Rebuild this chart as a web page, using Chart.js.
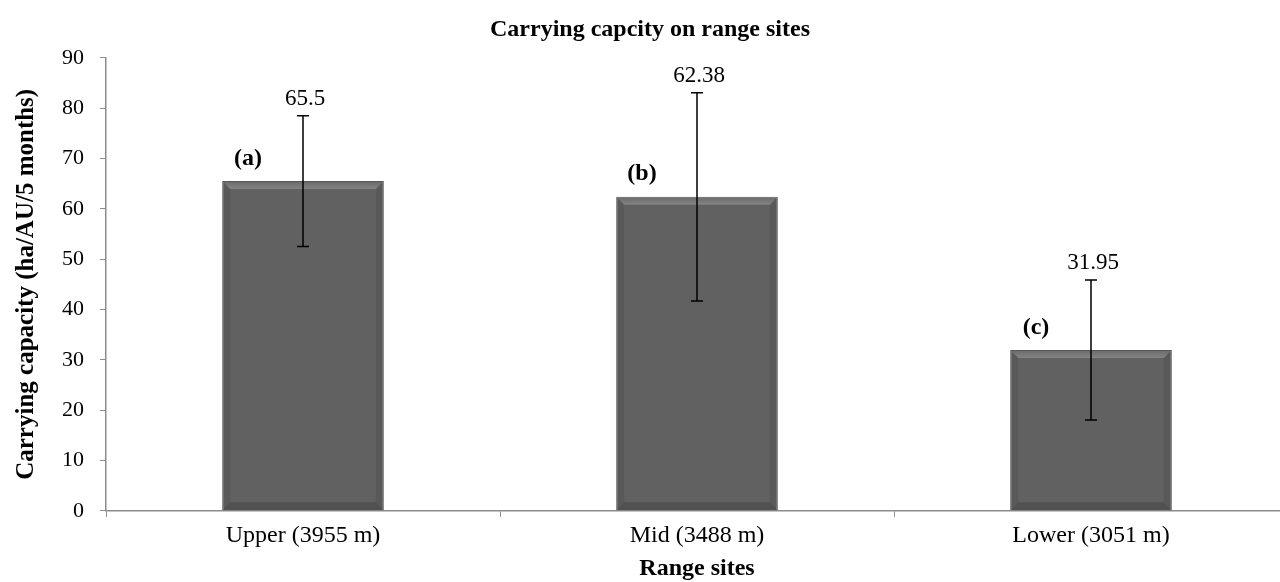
<!DOCTYPE html>
<html lang="en">
<head>
    <meta charset="utf-8">
    <script src="https://cdn.jsdelivr.net/npm/chart.js@4.4.0/dist/chart.umd.min.js"></script>
    <title>Carrying capacity on range sites</title>
    <style>
        html, body { margin: 0; padding: 0; background: #fff; overflow: hidden; }
        /* the original plot runs a little past the right edge of the picture */
        #wrap { width: 1292px; height: 582px; }
    </style>
</head>
<body>
    <div id="wrap"><canvas id="chart"></canvas></div>
    <script type="text/javascript">
        // data
        var sites = ['Upper (3955 m)', 'Mid (3488 m)', 'Lower (3051 m)'];
        var capacity = [65.5, 62.38, 31.95];
        var errors = [13, 20.7, 13.9];
        var letters = ['(a)', '(b)', '(c)'];

        var serif = '"Liberation Serif", "Times New Roman", serif';

        // error bars, value labels and letters drawn on top of the bars
        var extras = {
            id: 'extras',
            afterDatasetsDraw: function (chart) {
                var ctx = chart.ctx;
                var y = chart.scales.y;
                var meta = chart.getDatasetMeta(0);
                ctx.save();
                meta.data.forEach(function (bar, i) {
                    var x = bar.x;
                    var w = bar.width;
                    var top = bar.y;
                    var base = bar.base;
                    // bevel look
                    var left = x - w / 2, right = x + w / 2, b = 8;
                    var g = ctx.createLinearGradient(0, top, 0, top + b);
                    g.addColorStop(0, 'rgba(255,255,255,0.05)');
                    g.addColorStop(1, 'rgba(255,255,255,0.22)');
                    ctx.fillStyle = g;
                    ctx.beginPath();
                    ctx.moveTo(left, top); ctx.lineTo(right, top);
                    ctx.lineTo(right - b, top + b); ctx.lineTo(left + b, top + b);
                    ctx.closePath(); ctx.fill();
                    ctx.fillStyle = 'rgba(0,0,0,0.16)';
                    ctx.beginPath();
                    ctx.moveTo(left, base); ctx.lineTo(right, base);
                    ctx.lineTo(right - b, base - b); ctx.lineTo(left + b, base - b);
                    ctx.closePath(); ctx.fill();
                    ctx.fillStyle = 'rgba(0,0,0,0.08)';
                    ctx.beginPath();
                    ctx.moveTo(left, top); ctx.lineTo(left + b, top + b);
                    ctx.lineTo(left + b, base - b); ctx.lineTo(left, base);
                    ctx.closePath(); ctx.fill();
                    ctx.beginPath();
                    ctx.moveTo(right, top); ctx.lineTo(right - b, top + b);
                    ctx.lineTo(right - b, base - b); ctx.lineTo(right, base);
                    ctx.closePath(); ctx.fill();

                    // error bar
                    var hi = y.getPixelForValue(capacity[i] + errors[i]);
                    var lo = y.getPixelForValue(capacity[i] - errors[i]);
                    ctx.strokeStyle = '#000';
                    ctx.lineWidth = 1.5;
                    ctx.beginPath();
                    ctx.moveTo(x, hi); ctx.lineTo(x, lo);
                    ctx.moveTo(x - 6, hi); ctx.lineTo(x + 6, hi);
                    ctx.moveTo(x - 6, lo); ctx.lineTo(x + 6, lo);
                    ctx.stroke();

                    // value label
                    ctx.fillStyle = '#000';
                    ctx.font = '23px ' + serif;
                    ctx.textAlign = 'center';
                    ctx.textBaseline = 'alphabetic';
                    ctx.fillText(String(capacity[i]), x + 2, hi - 11);

                    // letter
                    ctx.font = 'bold 24px ' + serif;
                    ctx.textBaseline = 'middle';
                    ctx.fillText(letters[i], x - 55, y.getPixelForValue(capacity[i] + 4.5));
                });
                ctx.restore();
            }
        };

        var ctx = document.getElementById('chart');
        var myChart = new Chart(ctx, {
            type: 'bar',
            data: {
                labels: sites,
                datasets: [{
                    label: 'Carrying capacity',
                    data: capacity,
                    backgroundColor: '#616161',
                    borderColor: '#4d4d4d',
                    borderWidth: 1,
                    categoryPercentage: 1.0,
                    barPercentage: 0.41,
                }],
            },
            options: {
                responsive: true,
                maintainAspectRatio: false,
                animation: false,
                layout: { padding: { top: 0, right: 4, left: 12, bottom: 0 } },
                plugins: {
                    legend: { display: false },
                    tooltip: { enabled: false },
                    title: {
                        display: true,
                        text: 'Carrying capcity on range sites',
                        color: '#000',
                        font: { family: serif, size: 24, weight: 'bold', lineHeight: 1.2 },
                        padding: { top: 15, bottom: 14 },
                    },
                },
                scales: {
                    x: {
                        grid: {
                            offset: true,
                            drawOnChartArea: false,
                            color: '#8c8c8c',
                            tickLength: 6,
                        },
                        border: { color: '#8c8c8c', width: 1.5 },
                        ticks: { color: '#000', font: { family: serif, size: 24, lineHeight: 1.2 }, padding: 5 },
                        title: {
                            display: true,
                            text: 'Range sites',
                            color: '#000',
                            font: { family: serif, size: 24, weight: 'bold', lineHeight: 1.1 },
                            padding: { top: 0, bottom: 0 },
                        },
                    },
                    y: {
                        min: 0,
                        max: 90,
                        ticks: { stepSize: 10, color: '#000', font: { family: serif, size: 22 }, padding: 16 },
                        grid: {
                            drawOnChartArea: false,
                            color: '#8c8c8c',
                            tickLength: 6,
                        },
                        border: { color: '#8c8c8c', width: 1.5 },
                        title: {
                            display: true,
                            text: 'Carrying capacity (ha/AU/5 months)',
                            color: '#000',
                            font: { family: serif, size: 25, weight: 'bold', lineHeight: 1.2 },
                            padding: { top: 0, bottom: 4 },
                        },
                    },
                },
            },
            plugins: [extras],
        });
    </script>
</body>
</html>
